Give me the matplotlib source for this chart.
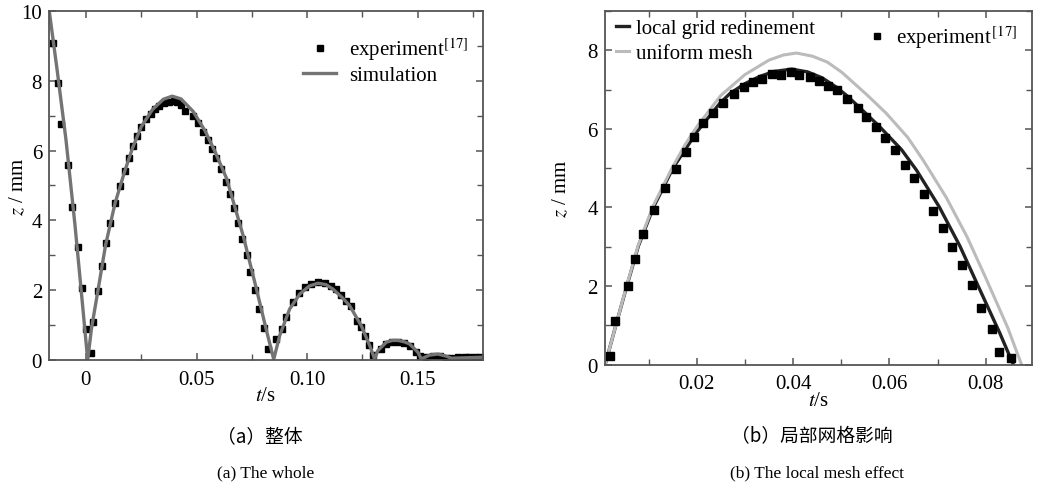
import matplotlib
matplotlib.use('Agg')
import matplotlib.pyplot as plt
from matplotlib.ticker import MultipleLocator

plt.rcParams['font.family'] = ['Liberation Serif', 'Noto Sans CJK SC']
plt.rcParams['mathtext.fontset'] = 'stix'
plt.rcParams['font.size'] = 15

# ---- (a) the whole: experiment
exp_a_t = [-0.0150, -0.0125, -0.0113, -0.0080, -0.0062, -0.0035, -0.0017, 0.0000,
           0.0023, 0.0030, 0.0056, 0.0071, 0.0089, 0.0110, 0.0132, 0.0155, 0.0176,
           0.0193, 0.0211, 0.0229, 0.0248, 0.0271, 0.0294, 0.0312, 0.0331, 0.0352,
           0.0374, 0.0396, 0.0413, 0.0430, 0.0447, 0.0485, 0.0507, 0.0530, 0.0553,
           0.0571, 0.0590, 0.0610, 0.0631, 0.0650, 0.0668, 0.0688, 0.0706, 0.0726,
           0.0744, 0.0763, 0.0783, 0.0805, 0.0823, 0.0861, 0.0888, 0.0906, 0.0936,
           0.0963, 0.0989, 0.1019, 0.1049, 0.1079, 0.1110, 0.1132, 0.1155, 0.1177,
           0.1200, 0.1225, 0.1245, 0.1260, 0.1280, 0.1298, 0.1336, 0.1358, 0.1385,
           0.1411, 0.1436, 0.1463, 0.1491, 0.1509, 0.1539, 0.1569, 0.1599, 0.1629,
           0.1652, 0.1682, 0.1712, 0.1734, 0.1757, 0.1780]
exp_a_z = [9.07, 7.93, 6.76, 5.59, 4.39, 3.25, 2.07, 0.89,
           0.20, 1.10, 1.99, 2.68, 3.34, 3.93, 4.50, 4.98, 5.41,
           5.79, 6.14, 6.43, 6.68, 6.90, 7.06, 7.18, 7.27, 7.36,
           7.40, 7.42, 7.38, 7.30, 7.14, 7.00, 6.79, 6.54, 6.31,
           6.05, 5.78, 5.47, 5.11, 4.76, 4.35, 3.93, 3.47, 3.01,
           2.53, 2.01, 1.46, 0.91, 0.32, 0.60, 0.89, 1.22, 1.65,
           1.92, 2.08, 2.18, 2.23, 2.21, 2.13, 2.03, 1.86, 1.70,
           1.54, 1.13, 0.94, 0.70, 0.43, 0.14, 0.32, 0.46, 0.52,
           0.52, 0.49, 0.39, 0.24, 0.11, 0.08, 0.12, 0.11, 0.05,
           0.05, 0.08, 0.08, 0.08, 0.08, 0.08]

# ---- (a) the whole: simulation
sim_a_t = [-0.0170, -0.0130, -0.0090, -0.0050, -0.0020, 0.0008,
           0.0025, 0.0056, 0.0089, 0.0132, 0.0176, 0.0211, 0.0250, 0.0300,
           0.0350, 0.0390, 0.0430, 0.0485, 0.0540, 0.0585, 0.0636, 0.0711,
           0.0771, 0.0816, 0.0849,
           0.0876, 0.0921, 0.0967, 0.1010, 0.1049, 0.1085, 0.1117, 0.1160,
           0.1192, 0.1245, 0.1283, 0.1305,
           0.1320, 0.1358, 0.1385, 0.1411, 0.1440, 0.1463, 0.1501, 0.1516,
           0.1554, 0.1591, 0.1629, 0.1652, 0.1700, 0.1750, 0.1800]
sim_a_z = [10.2, 8.30, 6.30, 3.90, 1.90, 0.00,
           0.90, 2.05, 3.30, 4.50, 5.42, 6.08, 6.68, 7.17,
           7.47, 7.56, 7.48, 7.12, 6.55, 5.95, 5.20, 3.56,
           2.03, 0.85, 0.02,
           0.70, 1.46, 1.89, 2.12, 2.20, 2.16, 2.03, 1.78,
           1.56, 0.98, 0.41, 0.03,
           0.27, 0.51, 0.56, 0.56, 0.52, 0.46, 0.22, 0.03,
           0.14, 0.17, 0.11, 0.05, 0.06, 0.07, 0.08]

# ---- (b) local mesh effect
exp_b_t = [0.0020, 0.0031, 0.0057, 0.0072, 0.0089, 0.0111, 0.0134, 0.0158, 0.0178,
           0.0195, 0.0214, 0.0234, 0.0254, 0.0277, 0.0298, 0.0317, 0.0336, 0.0357,
           0.0374, 0.0396, 0.0413, 0.0435, 0.0453, 0.0473, 0.0491, 0.0512, 0.0534,
           0.0551, 0.0573, 0.0591, 0.0611, 0.0633, 0.0651, 0.0672, 0.0691, 0.0710,
           0.0730, 0.0751, 0.0771, 0.0790, 0.0813, 0.0827, 0.0852]
exp_b_z = [0.23, 1.11, 1.99, 2.69, 3.33, 3.93, 4.49, 4.97, 5.41,
           5.79, 6.15, 6.41, 6.66, 6.89, 7.07, 7.19, 7.28, 7.40,
           7.38, 7.44, 7.36, 7.32, 7.21, 7.10, 7.00, 6.77, 6.52,
           6.30, 6.06, 5.76, 5.46, 5.09, 4.75, 4.35, 3.92, 3.48,
           3.00, 2.53, 2.03, 1.45, 0.91, 0.31, 0.18]

local_t = [0.0010, 0.0034, 0.0055, 0.0079, 0.0110, 0.0151, 0.0176, 0.0200, 0.0248,
           0.0269, 0.0300, 0.0330, 0.0360, 0.0397, 0.0430, 0.0460, 0.0490, 0.0511,
           0.0540, 0.0580, 0.0625, 0.0656, 0.0703, 0.0746, 0.0784, 0.0829, 0.0857]
local_z = [0.00, 1.08, 2.00, 3.02, 4.00, 5.01, 5.47, 5.92, 6.65,
           6.90, 7.15, 7.33, 7.46, 7.52, 7.45, 7.30, 7.06, 6.85,
           6.52, 6.05, 5.47, 4.95, 4.02, 3.02, 2.00, 0.80, 0.00]

uniform_t = [0.0010, 0.0034, 0.0055, 0.0079, 0.0110, 0.0149, 0.0176, 0.0200, 0.0250,
             0.0300, 0.0350, 0.0380, 0.0407, 0.0440, 0.0471, 0.0501, 0.0552, 0.0593,
             0.0638, 0.0670, 0.0718, 0.0761, 0.0800, 0.0845, 0.0874]
uniform_z = [0.00, 1.08, 2.02, 3.05, 4.05, 5.01, 5.60, 6.05, 6.85,
             7.38, 7.75, 7.88, 7.93, 7.85, 7.70, 7.44, 6.88, 6.40,
             5.78, 5.20, 4.25, 3.25, 2.20, 0.95, 0.00]

xticks_a = [0, 0.05, 0.10, 0.15]
xticklabels_a = ['0', '0.05', '0.10', '0.15']
xticks_b = [0.02, 0.04, 0.06, 0.08]
xticklabels_b = ['0.02', '0.04', '0.06', '0.08']

fig = plt.figure(figsize=(10.4, 4.89), dpi=100)
ax1 = fig.add_axes([0.0471, 0.2618, 0.4173, 0.7137])
ax2 = fig.add_axes([0.5814, 0.2522, 0.4106, 0.7233])

spine_col = '#555555'
for ax in (ax1, ax2):
    for s in ax.spines.values():
        s.set_color(spine_col)
        s.set_linewidth(1.3)
    ax.tick_params(which='both', direction='in', top=True, right=True,
                   color=spine_col, labelsize=15)
    ax.tick_params(which='major', length=5, width=1.1)
    ax.tick_params(which='minor', length=4, width=1.0)
    ax.tick_params(axis='x', pad=7)
    ax.tick_params(axis='y', pad=5)
    ax.set_ylabel(r'$z$ / mm', fontsize=15)
    ax.set_xlabel(r'$t$/s', fontsize=15, labelpad=-2)

ax1.yaxis.set_label_coords(-0.048, 0.5)
ax2.yaxis.set_label_coords(-0.077, 0.5)

# (a)
ax1.plot(exp_a_t, exp_a_z, 's', color='black', markersize=4.5,
         label=r'experiment$^{[17]}$')
ax1.plot(sim_a_t, sim_a_z, '-', color='#747474', lw=2.4, label='simulation')
ax1.set_xlim(-0.0167, 0.1795)
ax1.set_ylim(0, 10)
ax1.set_xticks(xticks_a)
ax1.set_xticklabels(xticklabels_a)
ax1.xaxis.set_minor_locator(MultipleLocator(0.025))
ax1.yaxis.set_major_locator(MultipleLocator(2))
ax1.yaxis.set_minor_locator(MultipleLocator(1))
ax1.legend(loc='upper right', bbox_to_anchor=(0.995, 0.965), frameon=False,
           fontsize=15, handlelength=1.6, handletextpad=0.6, labelspacing=0.15,
           borderaxespad=0.2)

# (b)
l1, = ax2.plot(local_t, local_z, '-', color='#222222', lw=2.4,
               label='local grid redinement')
l2, = ax2.plot(uniform_t, uniform_z, '-', color='#bbbbbb', lw=2.2,
               label='uniform mesh')
m1, = ax2.plot(exp_b_t, exp_b_z, 's', color='black', markersize=6.2,
               label=r'experiment$^{\,[17]}$')
ax2.set_xlim(0.0009, 0.0895)
ax2.set_ylim(0, 9)
ax2.set_xticks(xticks_b)
ax2.set_xticklabels(xticklabels_b)
ax2.xaxis.set_minor_locator(MultipleLocator(0.01))
ax2.yaxis.set_major_locator(MultipleLocator(2))
ax2.yaxis.set_minor_locator(MultipleLocator(1))
leg1 = ax2.legend(handles=[l1, l2], loc='upper left', frameon=False,
                  fontsize=15, handlelength=0.6, handletextpad=0.35,
                  labelspacing=0.25, borderaxespad=0.05,
                  bbox_to_anchor=(0.005, 1.005))
ax2.add_artist(leg1)
ax2.legend(handles=[m1], loc='upper right', frameon=False, fontsize=15,
           handlelength=0.6, handletextpad=0.6, markerscale=0.7,
           borderaxespad=0.1, bbox_to_anchor=(0.99, 0.995))

# captions
fig.text(0.250, 0.106, '（a）整体', family=['Noto Sans CJK SC'],
         ha='center', va='center', fontsize=13.5)
fig.text(0.255, 0.031, '(a) The whole', family=['Liberation Serif'],
         ha='center', va='center', fontsize=12.5)
fig.text(0.781, 0.106, '（b）局部网格影响', family=['Noto Sans CJK SC'],
         ha='center', va='center', fontsize=13.5)
fig.text(0.786, 0.031, '(b) The local mesh effect', family=['Liberation Serif'],
         ha='center', va='center', fontsize=12.5)

fig.savefig('out.png', dpi=100)
